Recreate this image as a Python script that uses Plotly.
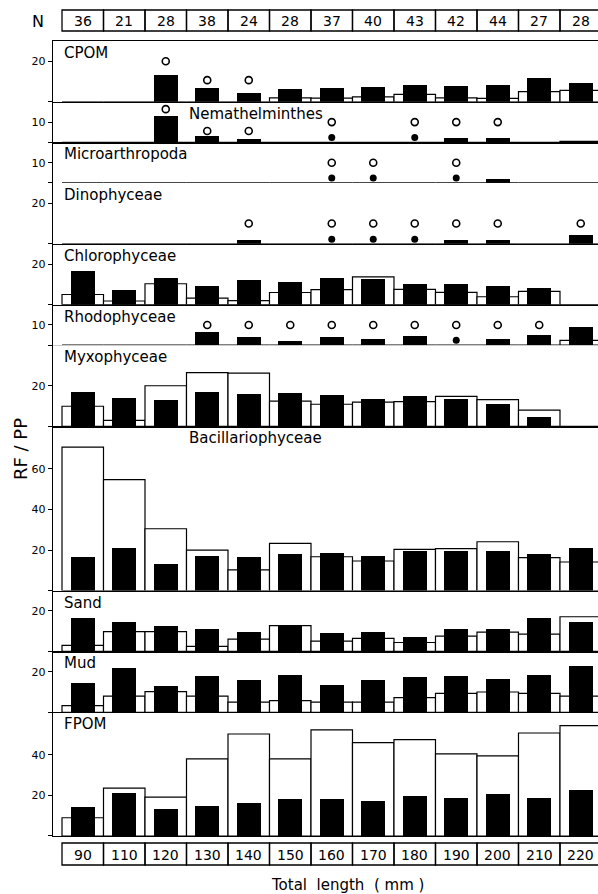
import plotly.graph_objects as go
from plotly.subplots import make_subplots

# ---------------- data ----------------
categories = ["90", "110", "120", "130", "140", "150", "160", "170", "180", "190", "200", "210", "220"]
n_fish = [36, 21, 28, 38, 24, 28, 37, 40, 43, 42, 44, 27, 28]

panel_names = ["CPOM", "Nemathelminthes", "Microarthropoda", "Dinophyceae", "Chlorophyceae",
               "Rhodophyceae", "Myxophyceae", "Bacillariophyceae", "Sand", "Mud", "FPOM"]
panel_ymax = [30, 20, 20, 30, 30, 20, 40, 81, 30, 30, 61]
panel_ticks = [[20], [10], [10], [20], [20], [10], [20], [20, 40, 60], [20], [20], [20, 40]]
label_col = [0, 3, 0, 0, 0, 0, 0, 3, 0, 0, 0]

N_ = None
# RF (white, open bars) and PP (black bars) per panel
cpom_rf = [0, 0, 0, 0, 0, 2, 1.8, 2.4, 3.7, 2, 1.7, 5, 5.7]
cpom_pp = [0, 0, 13.3, 6.7, 4.5, 6.2, 7, 7.3, 8.3, 7.7, 8.3, 11.7, 9.5]
cpom_open = [N_, N_, 20, 10.7, 10.7, N_, N_, N_, N_, N_, N_, N_, N_]
cpom_dot = [N_] * 13

nema_rf = [0, 0, 0, 0, 0, 0, 0, 0, 0, 0, 0, 0, 0.5]
nema_pp = [0, 0, 13.2, 3.2, 1.7, 0, 0, 0, 0, 2, 2, 0, 0]
nema_open = [N_, N_, 16.4, 5.6, 5.6, N_, 10, N_, 10, 10, 10, N_, N_]
nema_dot = [N_, N_, N_, N_, N_, N_, 2.4, N_, 2.4, N_, N_, N_, N_]

micro_rf = [0] * 13
micro_pp = [0, 0, 0, 0, 0, 0, 0, 0, 0, 0, 2.2, 0, 0]
micro_open = [N_, N_, N_, N_, N_, N_, 10, 10, N_, 10, N_, N_, N_]
micro_dot = [N_, N_, N_, N_, N_, N_, 2.4, 2.4, N_, 2.4, N_, N_, N_]

dino_rf = [0] * 13
dino_pp = [0, 0, 0, 0, 1.8, 0, 0, 0, 0, 1.8, 1.8, 0, 4.2]
dino_open = [N_, N_, N_, N_, 10, N_, 10, 10, 10, 10, 10, N_, 10]
dino_dot = [N_, N_, N_, N_, N_, N_, 2.2, 2.2, 2.2, N_, N_, N_, N_]

chloro_rf = [5, 1.8, 10.3, 3.2, 2, 6, 7.4, 13.7, 7.5, 6.1, 3.9, 6.5, 0]
chloro_pp = [16.6, 7.2, 13.3, 9, 12.1, 11.1, 13.2, 12.6, 10.4, 10.1, 9.4, 8.2, 0]
chloro_open = [N_] * 13
chloro_dot = [N_] * 13

rhodo_rf = [0, 0, 0, 0, 0, 0, 0, 0, 0, 0, 0, 0, 2.4]
rhodo_pp = [0, 0, 0, 6.5, 4.2, 1.9, 4.2, 3, 4.5, 0, 3, 4.8, 8.9]
rhodo_open = [N_, N_, N_, 10, 10, 10, 10, 10, 10, 10, 10, 10, N_]
rhodo_dot = [N_, N_, N_, N_, N_, N_, N_, N_, N_, 2.4, N_, N_, N_]

myxo_rf = [9.9, 2.9, 20, 26.5, 26.2, 12.4, 10.9, 11.9, 12.2, 14.8, 13.2, 8, 0]
myxo_pp = [17.1, 14.1, 12.8, 16.9, 15.8, 16.4, 15.4, 13.3, 15.1, 13.5, 10.9, 4.4, 0]
myxo_open = [N_] * 13
myxo_dot = [N_] * 13

bacil_rf = [70.7, 54.7, 30.5, 20, 10.2, 23.3, 16.7, 14.6, 20.3, 20.7, 24.1, 16.3, 14.1]
bacil_pp = [16.7, 21.2, 13.3, 17.1, 16.6, 18.2, 18.4, 17.1, 19.4, 19.4, 19.4, 17.9, 21.2]
bacil_open = [N_] * 13
bacil_dot = [N_] * 13

sand_rf = [3, 9.8, 9.8, 2.5, 6.1, 12.7, 5.1, 6.4, 4.4, 7.6, 9.5, 8.5, 17.1]
sand_pp = [16.6, 14.4, 12.7, 11, 9.8, 12.7, 9, 9.8, 7.3, 11, 11, 16.4, 14.6]
sand_open = [N_] * 13
sand_dot = [N_] * 13

mud_rf = [3.3, 8, 10.2, 8, 5, 5.8, 5, 5, 7.2, 9.3, 10, 9.3, 8]
mud_pp = [14.2, 21.7, 13, 17.7, 16, 18.3, 13.7, 16, 17.5, 17.7, 16.3, 18.3, 22.7]
mud_open = [N_] * 13
mud_dot = [N_] * 13

fpom_rf = [9, 23.6, 19.2, 38, 50.3, 38, 52.3, 46, 47.5, 40.5, 39.5, 50.8, 54.4]
fpom_pp = [14.3, 21.3, 13.4, 14.9, 16.2, 18.4, 18.2, 17.2, 19.7, 18.7, 20.7, 18.7, 22.5]
fpom_open = [N_] * 13
fpom_dot = [N_] * 13

rf_series = [cpom_rf, nema_rf, micro_rf, dino_rf, chloro_rf, rhodo_rf, myxo_rf, bacil_rf, sand_rf, mud_rf, fpom_rf]
pp_series = [cpom_pp, nema_pp, micro_pp, dino_pp, chloro_pp, rhodo_pp, myxo_pp, bacil_pp, sand_pp, mud_pp, fpom_pp]
open_series = [cpom_open, nema_open, micro_open, dino_open, chloro_open, rhodo_open, myxo_open, bacil_open, sand_open, mud_open, fpom_open]
dot_series = [cpom_dot, nema_dot, micro_dot, dino_dot, chloro_dot, rhodo_dot, myxo_dot, bacil_dot, sand_dot, mud_dot, fpom_dot]

# ---------------- layout constants ----------------
W, H = 598, 894
ML, MT, MB = 53, 41, 58
PLOT_H = H - MT - MB
PLOT_W = W - ML
FONT = "DejaVu Sans"
XR = [-0.717, 12.416]


def py(px):
    """pixel y (from top) -> paper y"""
    return (H - MB - px) / PLOT_H


def px_x(px):
    return (px - ML) / PLOT_W


nrows = len(panel_names)
fig = make_subplots(rows=nrows, cols=1, shared_xaxes=True, vertical_spacing=0,
                    row_heights=panel_ymax)

for k in range(nrows):
    r = k + 1
    fig.add_trace(go.Bar(x=categories, y=rf_series[k], width=1.0,
                         marker=dict(color="white", line=dict(color="black", width=1.2)),
                         hoverinfo="skip"), row=r, col=1)
    fig.add_trace(go.Bar(x=categories, y=pp_series[k], width=0.58,
                         marker=dict(color="black", line=dict(width=0)),
                         hoverinfo="skip"), row=r, col=1)
    if any(v is not None for v in open_series[k]):
        fig.add_trace(go.Scatter(x=categories, y=open_series[k], mode="markers",
                                 marker=dict(symbol="circle-open", size=7, color="black",
                                             line=dict(width=1.6, color="black")),
                                 hoverinfo="skip"), row=r, col=1)
    if any(v is not None for v in dot_series[k]):
        fig.add_trace(go.Scatter(x=categories, y=dot_series[k], mode="markers",
                                 marker=dict(symbol="circle", size=7, color="black"),
                                 hoverinfo="skip"), row=r, col=1)

    ticks = [0] + panel_ticks[k]
    fig.update_yaxes(row=r, col=1, range=[0, panel_ymax[k]], tickvals=ticks,
                     ticktext=[""] + [str(t) for t in panel_ticks[k]],
                     ticks="outside", ticklen=4, tickwidth=1, tickcolor="black",
                     showline=True, linecolor="black", linewidth=1.2,
                     showgrid=False, zeroline=False,
                     tickfont=dict(family=FONT, size=11, color="black"))
    fig.update_xaxes(row=r, col=1, type="category", range=XR, showline=True,
                     linecolor="black", linewidth=1.2, showgrid=False, zeroline=False,
                     showticklabels=False, ticks="", mirror=(r == 1))

    yref = "y domain" if r == 1 else f"y{r} domain"
    fig.add_annotation(text=panel_names[k], xref="x", x=label_col[k] - 0.5, xanchor="left",
                       yref=yref, y=1, yanchor="top", yshift=-1, showarrow=False,
                       font=dict(family=FONT, size=15, color="black"))

shapes = []
# N row boxes and total-length boxes
for i, (cat, n) in enumerate(zip(categories, n_fish)):
    shapes.append(dict(type="rect", xref="x", yref="paper", x0=i - 0.5, x1=i + 0.5,
                       y0=py(31), y1=py(10), line=dict(color="black", width=1.3)))
    shapes.append(dict(type="rect", xref="x", yref="paper", x0=i - 0.5, x1=i + 0.5,
                       y0=py(865), y1=py(843), line=dict(color="black", width=1.3)))
    fig.add_annotation(text=str(n), xref="x", x=i, xanchor="center", yref="paper", y=py(21),
                       yanchor="middle", showarrow=False,
                       font=dict(family=FONT, size=14, color="black"))
    fig.add_annotation(text=cat, xref="x", x=i, xanchor="center", yref="paper", y=py(854.5),
                       yanchor="middle", showarrow=False,
                       font=dict(family=FONT, size=14, color="black"))

fig.add_annotation(text="N", xref="paper", x=px_x(38), xanchor="center", yref="paper",
                   y=py(21), yanchor="middle", showarrow=False,
                   font=dict(family=FONT, size=16, color="black"))
fig.add_annotation(text="RF / PP", xref="paper", x=px_x(20), xanchor="center", yref="paper",
                   y=py(449), yanchor="middle", textangle=-90, showarrow=False,
                   font=dict(family=FONT, size=18, color="black"))
fig.add_annotation(text="Total  length  ( mm )", xref="paper", x=px_x(347), xanchor="center",
                   yref="paper", y=py(885), yanchor="middle", showarrow=False,
                   font=dict(family=FONT, size=15, color="black"))

fig.update_layout(width=W, height=H, margin=dict(l=ML, r=0, t=MT, b=MB),
                  plot_bgcolor="white", paper_bgcolor="white", showlegend=False,
                  barmode="overlay", bargap=0, shapes=shapes,
                  font=dict(family=FONT, color="black"))

fig.write_html("out.html",
               config={"displayModeBar": False, "staticPlot": True},
               post_script="document.documentElement.style.margin='0';"
                           "document.body.style.margin='0';"
                           "document.body.style.overflow='hidden';")
